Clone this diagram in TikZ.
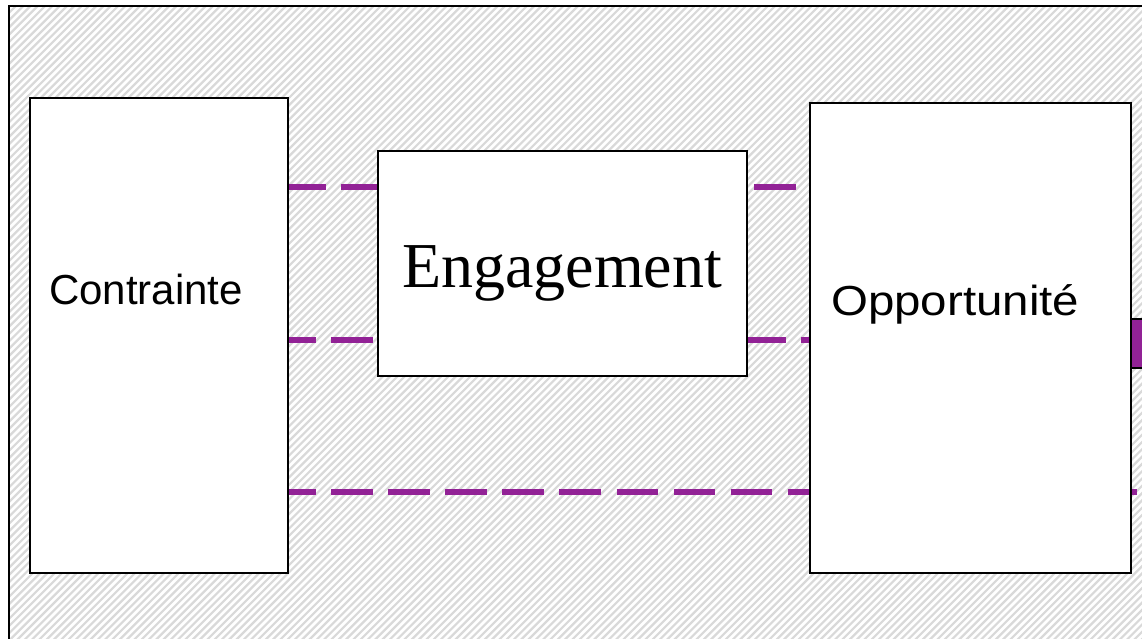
\documentclass[tikz,border=0pt]{standalone}
\usepackage{fontspec}
\setmainfont{Liberation Sans}
\newfontfamily\serifface{Liberation Serif}
\definecolor{dashpurple}{RGB}{146,34,150}
\pgfdeclarelayer{hatch}
\pgfdeclarelayer{links}
\pgfsetlayers{hatch,links,main}
\begin{document}
\begin{tikzpicture}[x=1pt,y=-1pt,
  box/.style={draw=black,line width=2pt,fill=white,inner sep=0,anchor=north west},
  link/.style={draw=dashpurple,line width=5.5pt,dash pattern=on 41.7pt off 15.4pt},
  lbl/.style={inner sep=0,anchor=base west,font=\fontsize{42}{50}\selectfont},
  hatchline/.style={draw=gray!30,line width=2.2pt}]
\useasboundingbox (0,0) rectangle (1142,639);
\begin{pgfonlayer}{hatch}
  \begin{scope}
    \clip (9,6) rectangle (1142,639);
    \foreach \k in {0,...,255} \draw[hatchline] ({-700+7.3*\k},700) -- ++(700,-700);
  \end{scope}
  \draw[line width=2pt] (9,660) -- (9,6) -- (1160,6);
\end{pgfonlayer}
% boxes
\node[box,minimum width=258pt,minimum height=475pt] (contr) at (29,97) {};
\node[box,minimum width=369pt,minimum height=225pt] (eng) at (377,150) {};
\node[box,minimum width=321pt,minimum height=470pt] (opp) at (809,102) {};
\node[box,fill=dashpurple,minimum width=30pt,minimum height=49pt] (tab) at (1130,318) {};
% texts
\node[lbl] (tc) at (49,304) {Contrainte};
\node[lbl] (to) at (831,315) {\scalebox{1.13}[1]{Opportunité}};
\node[inner sep=0,anchor=base west,font=\serifface\fontsize{64}{70}\selectfont] (te) at (402,287) {Engagement};
% links
\coordinate (bend) at (1137,492);
\begin{pgfonlayer}{links}
  \draw[link,dash phase=5.1pt] (contr.east |- 0,187) -- (eng.west |- 0,187);
  \draw[link,dash phase=51.1pt] (eng.east |- 0,187) -- (opp.west |- 0,187);
  \draw[link,dash phase=15.1pt] (contr.east |- 0,340) -- (eng.west |- 0,340);
  \draw[link,dash phase=4pt] (eng.east |- 0,340) -- (opp.west |- 0,340);
  \draw[link,dash phase=15.1pt] (contr.east |- 0,492) -- (bend);
\end{pgfonlayer}
\end{tikzpicture}
\end{document}
